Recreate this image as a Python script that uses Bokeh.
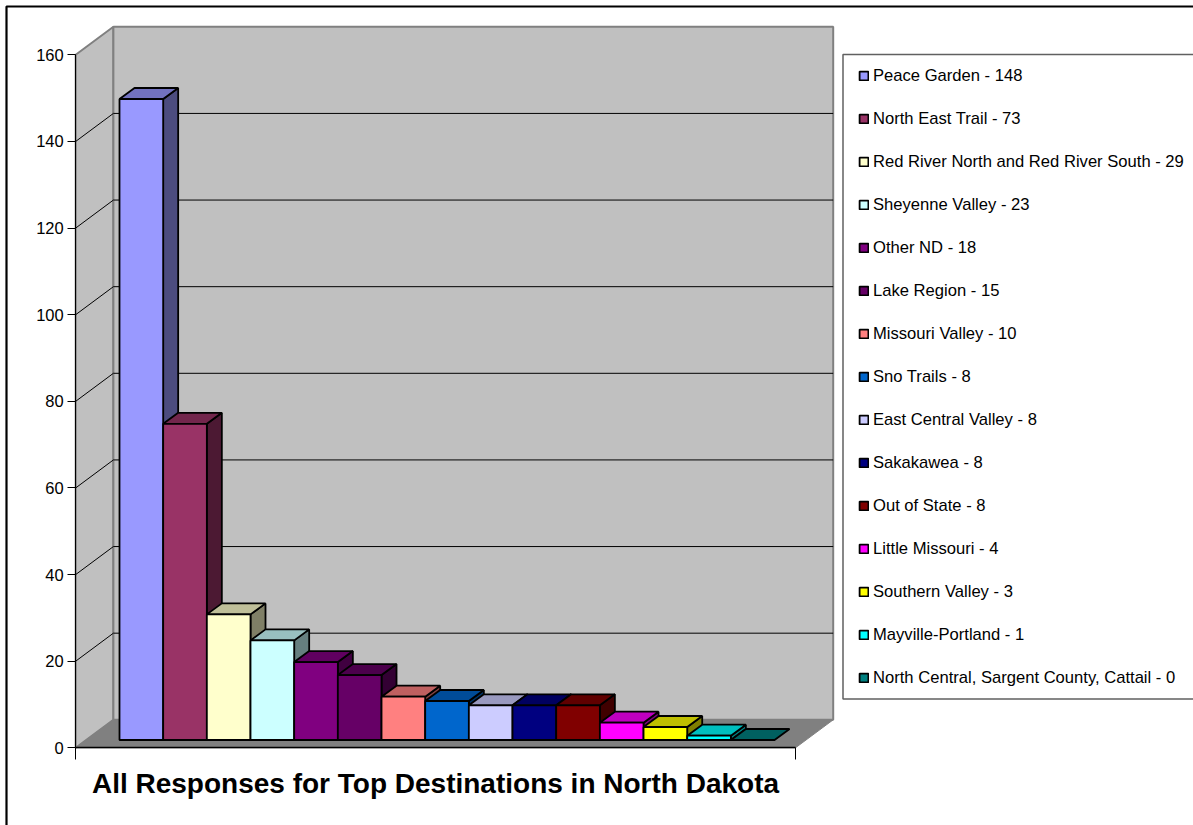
from bokeh.plotting import figure
from bokeh.models import Legend, LegendItem, FixedTicker, Label, Range1d
from bokeh.embed import file_html
from bokeh.resources import INLINE

# ---- data ----
series_names = ["Peace Garden", "North East Trail", "Red River North and Red River South",
                "Sheyenne Valley", "Other ND", "Lake Region", "Missouri Valley", "Sno Trails",
                "East Central Valley", "Sakakawea", "Out of State", "Little Missouri",
                "Southern Valley", "Mayville-Portland", "North Central, Sargent County, Cattail"]
legend_counts = [148, 73, 29, 23, 18, 15, 10, 8, 8, 8, 8, 4, 3, 1, 0]
bar_values = [148, 73, 29, 23, 18, 15, 10, 9, 8, 8, 8, 4, 3, 1, 0]
colors = ["#9999FF", "#993366", "#FFFFCC", "#CCFFFF", "#800080", "#660066", "#FF8080", "#0066CC",
          "#CCCCFF", "#000080", "#800000", "#FF00FF", "#FFFF00", "#00FFFF", "#008080"]
y_ticks = [0, 20, 40, 60, 80, 100, 120, 140, 160]
title_text = "All Responses for Top Destinations in North Dakota"

# ---- layout constants (pixels on the page) ----
W, H = 1193, 825
BAR_X0, BAR_W = 119.0, 43.67
PY0, PPU = 747.3, 693.0 / 160.0      # pixel of value 0 on the front axis, pixels per unit
BAR_BASE = 739.5


def dx(px):
    return px / BAR_W


def dy(px):
    return px / PPU


def X(px):
    return (px - BAR_X0) / BAR_W


def Y(px):
    return (PY0 - px) / PPU


def shade(c, f):
    r, g, b = int(c[1:3], 16), int(c[3:5], 16), int(c[5:7], 16)
    return "#%02X%02X%02X" % (int(r * f), int(g * f), int(b * f))


p = figure(width=W, height=H, output_backend="svg", toolbar_location=None,
           x_range=Range1d(X(0), X(W)), y_range=Range1d(Y(H), Y(0)),
           min_border=0, min_border_left=0, min_border_right=0, min_border_top=0, min_border_bottom=0,
           outline_line_color=None, background_fill_color="white", border_fill_color="white")
p.styles = {"position": "absolute", "left": "0px", "top": "0px"}
p.grid.visible = False

# page border (left and top only)
p.line([X(6), X(6), X(W + 5)], [Y(H + 5), Y(6), Y(6)], line_color="black", line_width=2.2)

# walls and floor
DEPTH_X, DEPTH_Y = 37.7, 28.0
LEFT, RIGHT = X(75.2), X(795)
p.patch([LEFT, LEFT + dx(DEPTH_X), LEFT + dx(DEPTH_X), LEFT],
        [160, 160 + dy(DEPTH_Y), dy(DEPTH_Y), 0],
        fill_color="#C0C0C0", line_color="#808080", line_width=2)
p.patch([LEFT + dx(DEPTH_X), RIGHT + dx(DEPTH_X), RIGHT + dx(DEPTH_X), LEFT + dx(DEPTH_X)],
        [160 + dy(DEPTH_Y), 160 + dy(DEPTH_Y), dy(DEPTH_Y), dy(DEPTH_Y)],
        fill_color="#C0C0C0", line_color="#808080", line_width=2)
p.patch([LEFT, RIGHT, RIGHT + dx(DEPTH_X), LEFT + dx(DEPTH_X)],
        [0, 0, dy(DEPTH_Y), dy(DEPTH_Y)],
        fill_color="#808080", line_color="#808080", line_width=1)

# gridlines wrapping the walls
for t in y_ticks[1:-1]:
    p.line([LEFT, LEFT + dx(DEPTH_X), RIGHT + dx(DEPTH_X)],
           [t, t + dy(DEPTH_Y), t + dy(DEPTH_Y)], line_color="black", line_width=1)

# legend box (open at the page's right edge)
p.quad(left=X(842.5), right=X(W + 5), top=Y(54), bottom=Y(698.5),
       fill_color="white", line_color="#606060", line_width=1.5)

# bars
base = Y(BAR_BASE)
ddx, ddy = dx(15), dy(11)
items = []
for i, (v, c) in enumerate(zip(bar_values, colors)):
    l, r = float(i), float(i + 1)
    top = base + v
    if v > 0:
        p.patch([r, r + ddx, r + ddx, r], [base, base + ddy, top + ddy, top],
                fill_color=shade(c, 0.5), line_color="black", line_width=1.8)
    p.patch([l, r, r + ddx, l + ddx], [top, top, top + ddy, top + ddy],
            fill_color=shade(c, 0.75), line_color="black", line_width=1.8)
    front = p.quad(left=l, right=r, bottom=base, top=top,
                   fill_color=c, line_color="black", line_width=1.8)
    items.append(LegendItem(label="%s - %d" % (series_names[i], legend_counts[i]), renderers=[front]))

# axes
yax = p.yaxis[0]
yax.fixed_location = LEFT
yax.ticker = FixedTicker(ticks=y_ticks)
yax.bounds = (0, 160)
yax.major_tick_in = 0
yax.major_tick_out = 8
yax.minor_tick_line_color = None
yax.axis_line_color = "black"
yax.major_tick_line_color = "black"
yax.major_label_standoff = 4
yax.major_label_text_font = "Liberation Sans"
yax.major_label_text_font_size = "16.5px"
yax.major_label_text_color = "black"

xax = p.xaxis[0]
xax.fixed_location = 0
xax.ticker = FixedTicker(ticks=[LEFT, RIGHT])
xax.bounds = (LEFT, RIGHT)
xax.major_tick_in = 0
xax.major_tick_out = 12
xax.minor_tick_line_color = None
xax.axis_line_color = "black"
xax.axis_line_width = 1.5
xax.major_tick_line_color = "black"
xax.major_label_text_color = None

# legend
leg = Legend(items=items, location=(858, H - 687.5), orientation="vertical",
             padding=0, margin=0, spacing=23,
             glyph_width=11, glyph_height=11, label_standoff=4,
             label_text_font="Liberation Sans", label_text_font_size="16.6px", label_text_color="black",
             label_height=20, border_line_color=None, background_fill_alpha=0.0)
p.add_layout(leg, "center")

p.add_layout(Label(x=435, y=H - 783, x_units="screen", y_units="screen", text=title_text,
                   text_font="Liberation Sans", text_font_style="bold", text_font_size="28px",
                   text_align="center", text_baseline="middle", text_color="black"))

open("out.html", "w").write(file_html(p, INLINE))
